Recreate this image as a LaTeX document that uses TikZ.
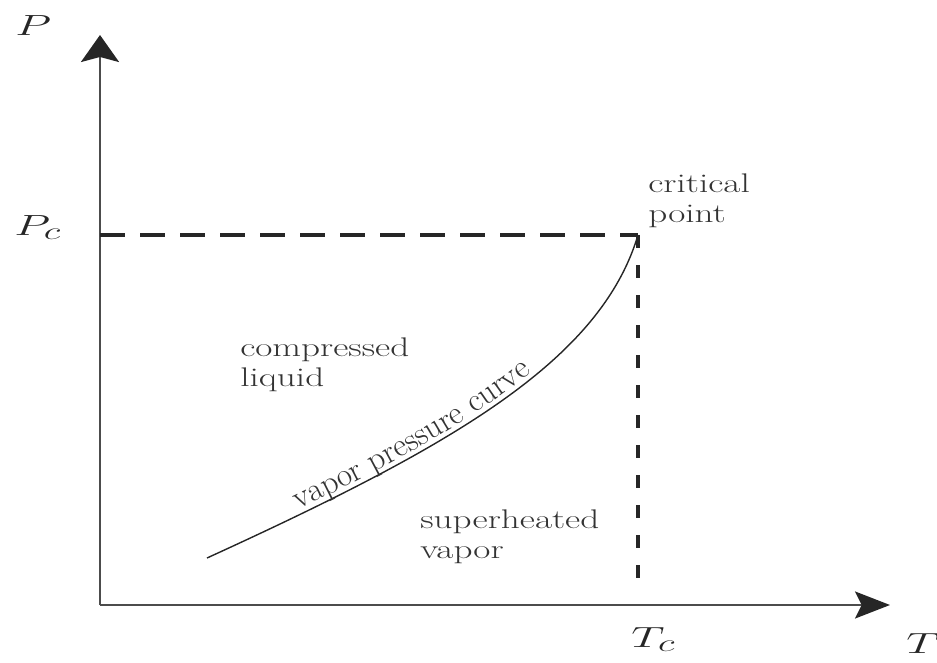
\documentclass[tikz,border=0pt]{standalone}
\usepackage{amsmath}
\usetikzlibrary{arrows.meta, positioning, calc, decorations.text}

\begin{document}
\begin{tikzpicture}[
    x=0.03cm, y=0.03cm,
    axis/.style={line width=2.2pt, black!70},
    hguide/.style={line width=3pt, black!85, dash pattern=on 0.75cm off 0.45cm},
    vguide/.style={line width=3pt, black!85, dash pattern=on 0.4cm off 0.5cm},
    region/.style={font=\fontsize{23}{25.6}\selectfont, align=left, xscale=1.38, text=black!80, inner sep=0pt},
    sym/.style={font=\fontsize{32}{36}\selectfont, xscale=1.6, text=black!85, inner sep=0pt}
]
\useasboundingbox (0,0) rectangle (937,662);
% axes
\coordinate (O) at (100,57);
\coordinate (ytip) at (100,627);
\coordinate (xtip) at (890,57);
\draw[axis, -{Stealth[length=0.81cm, width=1.14cm, inset=0.15cm, black!85]}] (O) -- (ytip);
\draw[axis, -{Stealth[length=1.05cm, width=0.81cm, inset=0.2cm, black!85]}] (O) -- (xtip);
% critical point and guides
\coordinate (crit) at (638,427);
\coordinate (pcaxis) at (O |- crit);
\coordinate (tcfoot) at (638,74);
\draw[hguide] (pcaxis) -- (crit);
\draw[vguide] (crit) -- (tcfoot);
% vapor pressure curve
\coordinate (low) at (207,104);
\draw[line width=1.2pt, black!85,
      postaction={decorate, decoration={text along path, raise=4pt,
        text align={left indent=3.1cm},
        text={|\color{black!80}\fontsize{28}{32}\selectfont|vapor pressure curve}}}]
    (low) .. controls (450,215) and (600,300) .. (crit);
% labels
\node[sym, anchor=north west] (plab) at (15,647) {$P$};
\node[sym, anchor=north west] (pclab) at (14,447) {$P_c$};
\node[sym, anchor=north west] (tclab) at (631,35) {$T_c$};
\node[sym, anchor=north west] (tlab) at (906,29) {$T$};
\node[region, anchor=south west] (critlab) at (648,434) {critical\\point};
\node[region, anchor=west] (liq) at (240,297) {compressed\\liquid};
\node[region, anchor=west] (vap) at (420,125) {superheated\\vapor};
\end{tikzpicture}
\end{document}
